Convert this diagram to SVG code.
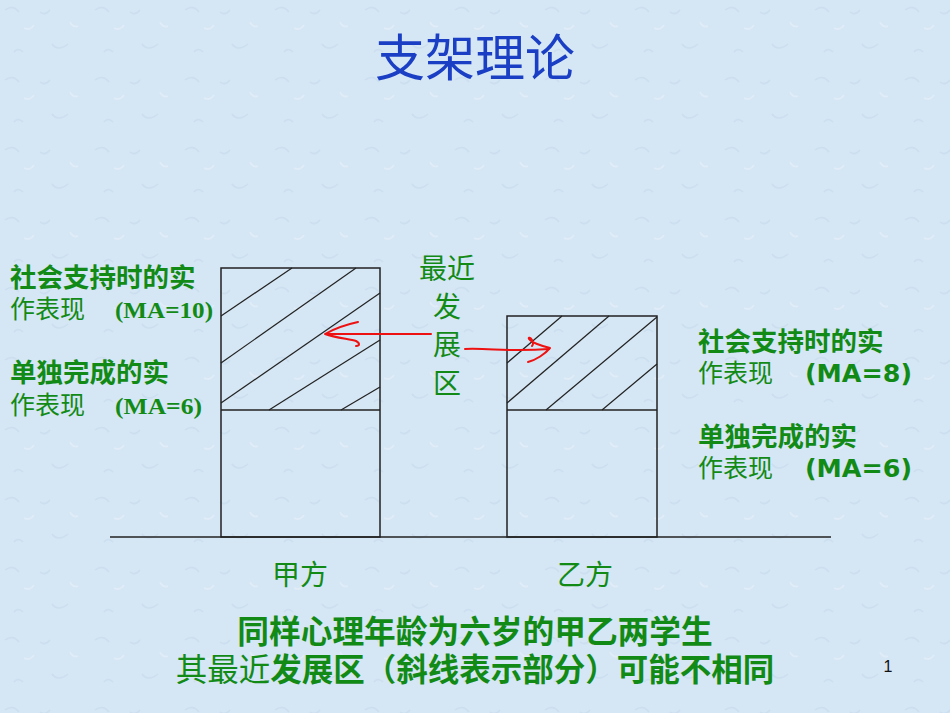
<svg xmlns="http://www.w3.org/2000/svg" width="950" height="713" viewBox="0 0 950 713">
<defs>
<style>
.cjk{font-family:"Noto Sans CJK SC","Noto Sans",sans-serif;}
.g{fill:#128a16;}
.b{font-weight:bold;}
.box{fill:none;stroke:#222;stroke-width:1.5;}
.h{stroke:#222;stroke-width:1.2;fill:none;}
.red{stroke:#ee1111;stroke-width:2;fill:none;stroke-linecap:round;stroke-linejoin:round;}
.ma{font-family:"Liberation Serif",serif;font-weight:bold;}
.ma2{font-family:"DejaVu Sans",sans-serif;font-weight:bold;}
</style>
<pattern id="tex" width="90" height="70" patternUnits="userSpaceOnUse">
<rect width="90" height="70" fill="#d5e6f4"/>
<path d="M5,10 q8,-6 14,2 M52,44 q6,8 16,0 M40,12 q5,4 10,-2 M14,52 q4,-5 9,0" stroke="#cbdff0" stroke-width="1.5" fill="none"/>
<path d="M24,28 q6,3 10,-3 M70,22 q3,6 8,4" stroke="#e0ecf7" stroke-width="2" fill="none"/>
</pattern>
</defs>
<rect width="950" height="713" fill="url(#tex)"/>

<g id="title"><text x="475" y="76" text-anchor="middle" class="cjk" font-size="50" fill="#1a3ec4">支架理论</text></g>

<g id="ground"><line x1="110" y1="537" x2="831" y2="537" stroke="#222" stroke-width="1.5"/></g>

<g id="boxA">
<rect x="221" y="268" width="159" height="269" class="box"/>
<line x1="221" y1="410" x2="380" y2="410" class="box"/>
<line x1="221" y1="316" x2="292" y2="268" class="h"/>
<line x1="221" y1="363" x2="356" y2="268" class="h"/>
<line x1="221" y1="403" x2="380" y2="293" class="h"/>
<line x1="269" y1="410" x2="380" y2="340" class="h"/>
<line x1="341" y1="410" x2="380" y2="387" class="h"/>
</g>

<g id="boxB">
<rect x="507" y="316" width="150" height="221" class="box"/>
<line x1="507" y1="410" x2="657" y2="410" class="box"/>
<line x1="507" y1="363" x2="562" y2="316" class="h"/>
<line x1="507" y1="403" x2="609" y2="316" class="h"/>
<line x1="546" y1="410" x2="657" y2="317" class="h"/>
<line x1="602" y1="410" x2="657" y2="364" class="h"/>
</g>

<g id="connectors">
<path class="red" d="M431,334 L326,334"/>
<path class="red" d="M358,322 C344,325 332,330 325,334 C336,338 350,339 356,341 C360,343 360,346 356,346"/>
<path class="red" d="M465,349 C490,348 510,352 549,349"/>
<path class="red" d="M528,362 C536,360 545,354 550,348 C542,346 534,344 530,340 C527,338 530,336 532,340 C534,344 533,345 532,346"/>
</g>

<g id="zpd" class="cjk g" font-size="28" text-anchor="middle">
<text x="447" y="279">最近</text>
<text x="447" y="317">发</text>
<text x="447" y="355">展</text>
<text x="447" y="394">区</text>
</g>

<g id="labelA" class="g">
<text x="10" y="287" class="cjk b" font-size="26.5">社会支持时的实</text>
<text x="10" y="318" class="cjk" font-size="25">作表现</text>
<text x="115" y="318" class="ma" font-size="23" textLength="98" lengthAdjust="spacingAndGlyphs">(MA=10)</text>
<text x="10" y="382" class="cjk b" font-size="26.5">单独完成的实</text>
<text x="10" y="414" class="cjk" font-size="25">作表现</text>
<text x="115" y="414" class="ma" font-size="23" textLength="87" lengthAdjust="spacingAndGlyphs">(MA=6)</text>
</g>

<g id="labelB" class="g">
<text x="698" y="351" class="cjk b" font-size="26.5">社会支持时的实</text>
<text x="698" y="382" class="cjk" font-size="25">作表现</text>
<text x="805" y="382" class="ma2" font-size="24" textLength="107" lengthAdjust="spacingAndGlyphs">(MA=8)</text>
<text x="698" y="446" class="cjk b" font-size="26.5">单独完成的实</text>
<text x="698" y="477" class="cjk" font-size="25">作表现</text>
<text x="805" y="477" class="ma2" font-size="24" textLength="107" lengthAdjust="spacingAndGlyphs">(MA=6)</text>
</g>

<g id="nameA"><text x="272" y="585" class="cjk g" font-size="28">甲方</text></g>
<g id="nameB"><text x="557" y="585" class="cjk g" font-size="28">乙方</text></g>

<g id="caption" class="cjk g" text-anchor="middle">
<text x="475" y="643" font-size="31.7" class="b">同样心理年龄为六岁的甲乙两学生</text>
<text x="475" y="681" font-size="31.5"><tspan>其最近</tspan><tspan font-weight="bold">发展区（斜线表示部分）可能不相同</tspan></text>
</g>

<g id="page"><text x="888" y="672" font-family="Liberation Sans, sans-serif" font-size="16" text-anchor="middle" fill="#111">1</text></g>
</svg>
